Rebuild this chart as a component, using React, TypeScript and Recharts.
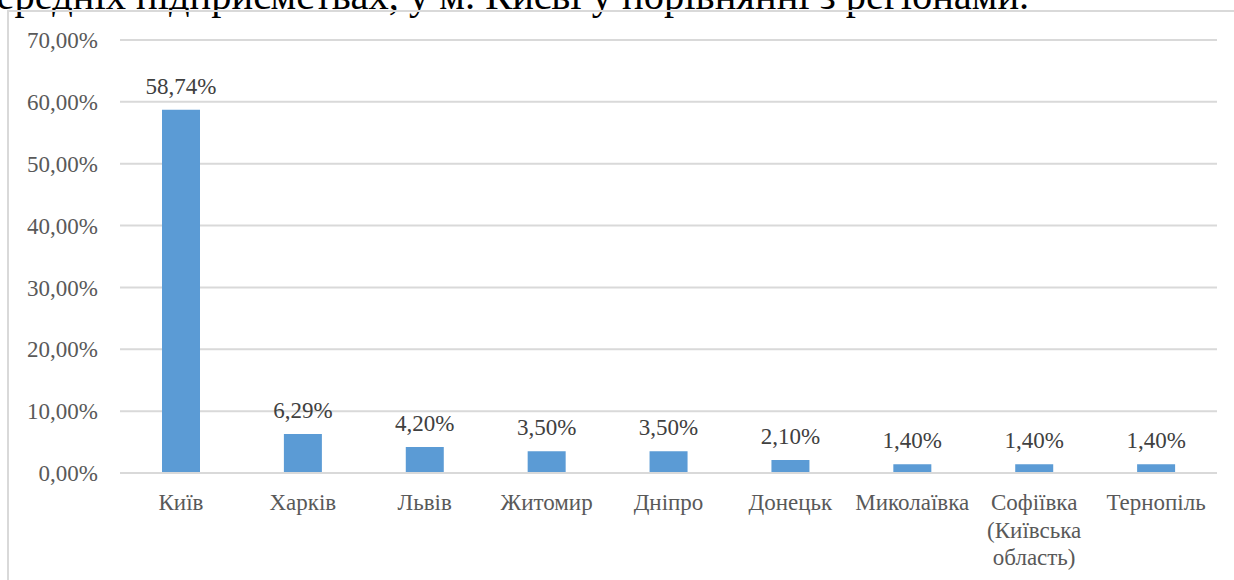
import { Bar, BarChart, CartesianGrid, LabelList, XAxis, YAxis } from 'recharts';

const cities = ['Київ', 'Харків', 'Львів', 'Житомир', 'Дніпро', 'Донецьк', 'Миколаївка', 'Софіївка (Київська область)', 'Тернопіль'];
const shares = [58.74, 6.29, 4.2, 3.5, 3.5, 2.1, 1.4, 1.4, 1.4];
const yTicks = [0, 10, 20, 30, 40, 50, 60, 70];
const cityLines: Record<string, string[]> = {
    'Софіївка (Київська область)': ['Софіївка', '(Київська', 'область)'],
};

const rows = cities.map((city, i) => ({ city, share: shares[i] }));

const serif = 'Liberation Serif, Times New Roman, serif';
const pct = (v: number) => v.toFixed(2).replace('.', ',') + '%';

function CityTick({ x, y, payload }: any) {
    const lines = cityLines[payload.value] ?? [payload.value];
    return (
        <text x={x} y={y} textAnchor="middle" fill="#595959" fontSize={23} fontFamily={serif}>
            {lines.map((line, i) => (
                <tspan key={i} x={x} dy={i === 0 ? 29 : 27.5}>
                    {line}
                </tspan>
            ))}
        </text>
    );
}

export default function App() {
    return (
        <div style={{ position: 'absolute', left: 0, top: 0, width: 1234, height: 580, overflow: 'hidden', background: '#fff' }}>
            <div
                style={{
                    position: 'absolute',
                    left: -22,
                    top: -24,
                    whiteSpace: 'nowrap',
                    fontFamily: serif,
                    fontSize: 40.5,
                    lineHeight: 1,
                    color: '#000',
                }}
            >
                середніх підприємствах, у м. Києві у порівнянні з регіонами.
            </div>
            <div
                style={{
                    position: 'absolute',
                    left: 7,
                    top: 10,
                    width: 1300,
                    height: 700,
                    border: '2px solid #d9d9d9',
                    boxSizing: 'border-box',
                }}
            />
            <div style={{ position: 'absolute', left: 0, top: 0 }}>
                <BarChart
                    width={1234}
                    height={580}
                    data={rows}
                    barSize={38}
                    margin={{ top: 40, right: 17, bottom: 0, left: 0 }}
                >
                    <CartesianGrid vertical={false} stroke="#d9d9d9" strokeWidth={2} />
                    <XAxis
                        dataKey="city"
                        axisLine={{ stroke: '#d9d9d9', strokeWidth: 2 }}
                        tickLine={false}
                        interval={0}
                        height={107}
                        tick={<CityTick />}
                    />
                    <YAxis
                        domain={[0, 70]}
                        ticks={yTicks}
                        width={120}
                        axisLine={false}
                        tickLine={false}
                        tickMargin={16}
                        tickFormatter={(v: number) => pct(v)}
                        tick={{ fill: '#595959', fontSize: 23, fontFamily: serif }}
                    />
                    <Bar dataKey="share" fill="#5b9bd5" isAnimationActive={false}>
                        <LabelList
                            dataKey="share"
                            position="top"
                            offset={16}
                            formatter={(v: any) => pct(Number(v))}
                            fill="#404040"
                            fontSize={23}
                            fontFamily={serif}
                        />
                    </Bar>
                </BarChart>
            </div>
        </div>
    );
}
